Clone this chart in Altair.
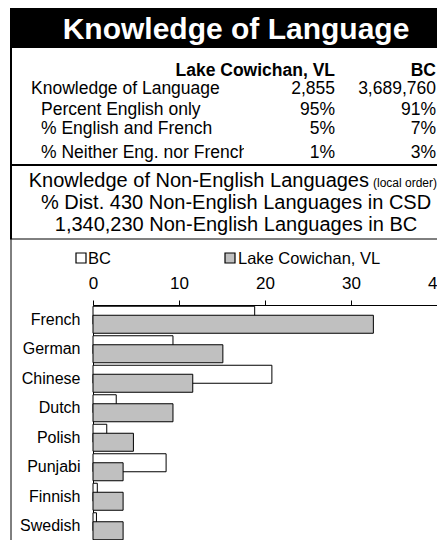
import altair as alt
import pandas as pd

FONT = "Liberation Sans"

# ---- data ----
languages = ["French", "German", "Chinese", "Dutch", "Polish", "Punjabi", "Finnish", "Swedish"]
bc_pct = [18.8, 9.3, 20.8, 2.7, 1.6, 8.5, 0.5, 0.4]
lake_pct = [32.6, 15.1, 11.6, 9.3, 4.7, 3.5, 3.5, 3.5]
series = ["BC", "Lake Cowichan, VL"]
x_ticks = [0, 10, 20, 30, 40]

title_text = "Knowledge of Language"
table_header = ["Lake Cowichan, VL", "BC"]
row_labels = ["Knowledge of Language", "Percent English only",
              "% English and French", "% Neither Eng. nor French"]
lake_values = ["2,855", "95%", "5%", "1%"]
bc_values = ["3,689,760", "91%", "7%", "3%"]
subtitle_main = "Knowledge of Non-English Languages"
subtitle_note = "(local order)"
subtitle_lines = ["% Dist. 430 Non-English Languages in CSD",
                  "1,340,230 Non-English Languages in BC"]

# page extents available without page scaling
PAGE_R, PAGE_B = 437, 540
# plot origin in page coordinates
X0, Y0 = 93, 305
W, H = PAGE_R - X0, 236


def px(x):
    return x - X0


def py(y):
    return y - Y0


one = pd.DataFrame({"k": [0]})


def txt(s, x, y, size, align="left", weight="normal", color="black"):
    return alt.Chart(pd.DataFrame({"t": [s]})).mark_text(
        align=align, baseline="alphabetic", fontSize=size, fontWeight=weight,
        font=FONT, color=color
    ).encode(x=alt.value(px(x)), y=alt.value(py(y)), text="t:N")


def rect(x1, x2, y1, y2, fill, stroke=None, sw=0):
    kw = dict(fill=fill)
    if stroke:
        kw.update(stroke=stroke, strokeWidth=sw)
    return alt.Chart(one).mark_rect(**kw).encode(
        x=alt.value(px(x1)), x2=alt.value(px(x2)),
        y=alt.value(py(y1)), y2=alt.value(py(y2)))


def hrule(x1, x2, y, sw):
    return alt.Chart(one).mark_rule(color="black", strokeWidth=sw).encode(
        x=alt.value(px(x1)), x2=alt.value(px(x2)), y=alt.value(py(y)))


def vrule(x, y1, y2, sw):
    return alt.Chart(one).mark_rule(color="black", strokeWidth=sw).encode(
        x=alt.value(px(x)), y=alt.value(py(y1)), y2=alt.value(py(y2)))


layers = []

# title band
layers.append(rect(10, 445, 8, 48, "black"))
layers.append(txt(title_text, 236, 39, 30, align="center", weight="bold", color="white"))

# frame lines
layers.append(vrule(11, 48, 239, 2))
layers.append(vrule(11, 239, 548, 1))
layers.append(hrule(10, 445, 165, 2))
layers.append(hrule(10, 445, 239, 1))

# table
layers.append(txt(table_header[0], 335, 76, 17.5, align="right", weight="bold"))
layers.append(txt(table_header[1], 436, 76, 17.5, align="right", weight="bold"))
row_base = [94, 114.5, 134, 158]
for i, (lab, lv, bv) in enumerate(zip(row_labels, lake_values, bc_values)):
    lx = 31 if i == 0 else 41
    layers.append(txt(lab, lx, row_base[i], 17.5))
    if i == len(row_labels) - 1:
        layers.append(rect(244, 300, 140, 163, "white"))
    layers.append(txt(lv, 335, row_base[i], 17.5, align="right"))
    layers.append(txt(bv, 436, row_base[i], 17.5, align="right"))

# subtitle block
layers.append(txt(subtitle_main, 369, 187, 20, align="right"))
layers.append(txt(subtitle_note, 373, 187, 12, align="left"))
layers.append(txt(subtitle_lines[0], 236, 208.5, 20, align="center"))
layers.append(txt(subtitle_lines[1], 236, 231, 20, align="center"))

# legend
layers.append(rect(76, 86, 253, 263, "white", "black", 1.2))
layers.append(txt(series[0], 88, 263.5, 16.5))
layers.append(rect(225, 235, 253, 263, "#c0c0c0", "black", 1.2))
layers.append(txt(series[1], 238, 263.5, 16.5))

# bars
df = pd.DataFrame({"lang": languages, "bc": bc_pct, "lake": lake_pct})
xaxis = alt.Axis(orient="top", values=x_ticks, title=None, grid=False,
                 tickSize=5, tickColor="black", domainColor="black",
                 labelFont=FONT, labelFontSize=17, labelColor="black",
                 labelPadding=8, labelFlush=False)
xscale = alt.Scale(domain=[0, 40], nice=False)
yenc = alt.Y("lang:N", sort=languages, title=None,
             scale=alt.Scale(paddingInner=0, paddingOuter=0),
             axis=alt.Axis(ticks=False, labelFont=FONT, labelFontSize=16,
                           labelColor="black", labelPadding=13,
                           domainColor="black", grid=False, labelLimit=200))

bc_bar = alt.Chart(df).mark_bar(size=18, yOffset=-4.5, fill="white",
                                stroke="black", strokeWidth=1).encode(
    x=alt.X("bc:Q", scale=xscale, axis=xaxis), y=yenc)
lake_bar = alt.Chart(df).mark_bar(size=18, yOffset=4.5, fill="#c0c0c0",
                                  stroke="black", strokeWidth=1).encode(
    x=alt.X("lake:Q", scale=xscale, axis=xaxis), y=yenc)

chart = alt.layer(bc_bar, lake_bar, *layers).properties(
    width=W, height=H,
    autosize=alt.AutoSizeParams(type="none"),
    padding={"left": X0 - 8, "top": Y0 - 8,
             "right": PAGE_R - X0 - W, "bottom": PAGE_B - Y0 - H},
    background="white",
).configure_view(stroke=None)

chart.save("out.html", embed_options={"renderer": "svg", "actions": False})
